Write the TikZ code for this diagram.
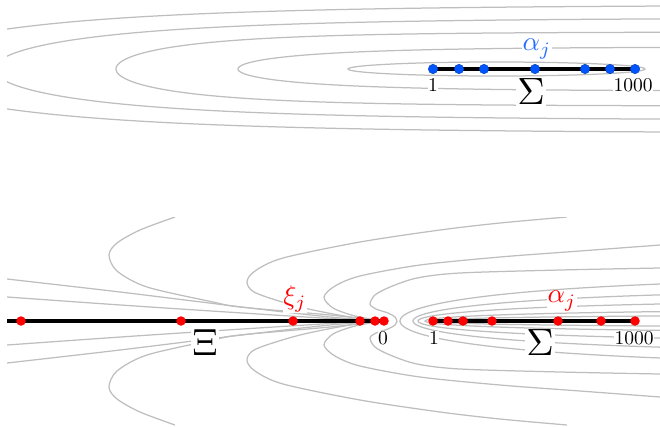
\documentclass[tikz,border=0pt]{standalone}
\usepackage{amsmath}
\definecolor{cgray}{RGB}{190,190,190}
\definecolor{bluedot}{RGB}{0,85,255}
\definecolor{bluelab}{RGB}{40,110,255}
\newcommand\lobe[4]{% xL, s, b, y0
  \pgfmathsetmacro\VV{sqrt((690-#1)/#2)}
  \draw[cont] plot[domain=-\VV:\VV, samples=240, variable=\v]
    ({#1+#2*((\v)^2)}, {#4+#3*((\v)<0?-1:1)*sqrt(max(0,1-exp(-((\v)^2))))});
}
\newcommand\mirr[1]{%
  \begin{scope}[shift={(0,321)}]#1\end{scope}%
  \begin{scope}[shift={(0,321)},yscale=-1]#1\end{scope}}
\begin{document}
\begin{tikzpicture}[x=1pt,y=-1pt,
  cont/.style={draw=cgray, line width=1.25pt},
  seg/.style={line width=3.3pt},
  rdot/.style={circle, fill=red, inner sep=0pt, minimum size=9.5pt},
  bdot/.style={circle, fill=bluedot, draw=bluedot!70!black, line width=0.4pt, inner sep=0pt, minimum size=9.5pt},
  numlab/.style={fill=white, inner sep=0.3pt, scale=1.95},
  mlab/.style={fill=white, inner sep=0.3pt, scale=2.7},
  biglab/.style={fill=white, inner sep=0.4pt, scale=3.8}]
\useasboundingbox (0,0) rectangle (660,426);
% ---------------- top panel ----------------
\begin{scope}
  \clip (7,0) rectangle (660,140);
  \lobe{-103}{223}{64}{69}
  \lobe{-6}{200}{51}{69}
  \lobe{116}{130}{37}{69}
  \lobe{238}{130}{22}{69}
  \draw[cont] (496.5,69) ellipse [x radius=148.5, y radius=7];
\end{scope}
\draw[seg] (433,69) coordinate (ta) -- (635,69) coordinate (tb);
\foreach \x [count=\i] in {433,459,484,535,585,610,635}
  \node[bdot] (b\i) at (\x,69) {};
\node[numlab] (t1) at (433,85) {$1$};
\node[numlab] (t1000) at (633,85) {$1000$};
\node[mlab, text=bluelab] (talpha) at (537,49) {$\alpha_j$};
\node[biglab] (tsigma) at (531,92) {$\Sigma$};
% ---------------- bottom panel ----------------
\begin{scope}
  \clip (7,217) rectangle (660,426);
  \mirr{
    \draw[cont] plot[smooth] coordinates {(7,-42) (120,-29) (250,-13) (330,-4) (383,0)};
    \draw[cont] plot[smooth] coordinates {(7,-24) (150,-14) (330,-2.5) (383,0)};
    \draw[cont] plot[smooth] coordinates {(175,-104) (140,-91) (117,-78) (109,-66) (117,-50) (147,-34) (213,-19) (240,-14) (330,-6) (383,0)};
    \draw[cont] plot[smooth] coordinates {(567,-104) (500,-98) (440,-91) (360,-79) (283,-63) (255,-50) (247,-39) (256,-28) (300,-14) (350,-4) (383,0)};
    \draw[cont] plot[smooth] coordinates {(660,-76) (580,-70) (500,-64) (420,-56) (360,-45) (335,-35) (324,-24) (333,-13) (355,-5) (383,0)};
    \draw[cont] plot[smooth] coordinates {(660,-53) (560,-51) (460,-48) (417,-43) (390,-34) (375,-26) (370,-17) (376,-12) (388,-8) (395,-4) (397,0)};
  }
  \lobe{400}{250}{46}{321}
  \lobe{413}{250}{33}{321}
  \lobe{418}{250}{21.6}{321}
  \lobe{425}{250}{12}{321}
  \lobe{430}{250}{6.5}{321}
\end{scope}
\draw[seg] (7,321) coordinate (ba) -- (383,321) coordinate (bz);
\draw[seg] (433,321) coordinate (bc) -- (635,321) coordinate (bd);
\foreach \x [count=\i] in {21,181,293,360,375,384}
  \node[rdot] (x\i) at (\x,321) {};
\foreach \x [count=\i] in {433,448,463,492,558,601,635}
  \node[rdot] (a\i) at (\x,321) {};
\node[numlab] (b0) at (383,338) {$0$};
\node[numlab] (b1) at (434,338) {$1$};
\node[numlab] (b1000) at (634,338) {$1000$};
\node[mlab, text=red] (bxi) at (295,299) {$\xi_j$};
\node[mlab, text=red] (balpha) at (562,301) {$\alpha_j$};
\node[biglab] (bXi) at (205,343) {$\Xi$};
\node[biglab] (bsigma) at (540,343) {$\Sigma$};
\end{tikzpicture}
\end{document}
